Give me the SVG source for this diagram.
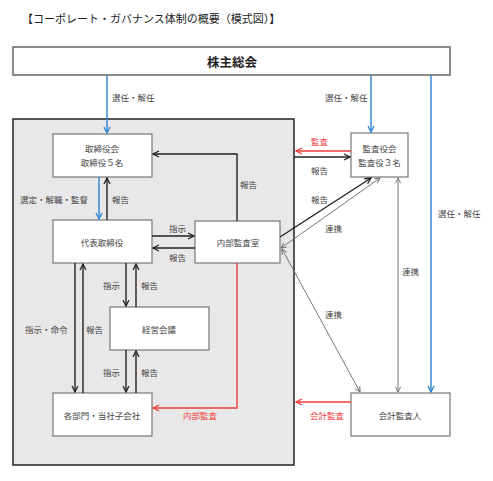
<svg xmlns="http://www.w3.org/2000/svg" width="493" height="481" viewBox="0 0 493 481">
<style>
text{font-family:"Noto Sans CJK JP","Noto Sans",sans-serif;fill:#444;font-size:8.5px;dominant-baseline:central}
.t{font-size:11px;fill:#222}
.h{font-size:12.5px;font-weight:bold;fill:#222}
.r{fill:#f03c3c}
.box{fill:#fff;stroke:#777;stroke-width:1.2}
.k{stroke:#222;stroke-width:1.4;fill:none;marker-end:url(#ak)}
.b{stroke:#2a84d2;stroke-width:1.4;fill:none;marker-end:url(#ab)}
.rd{stroke:#f03c3c;stroke-width:1.4;fill:none;marker-end:url(#ar)}
.g{stroke:#666;stroke-width:0.9;fill:none;marker-end:url(#ag);marker-start:url(#ag)}
</style>
<defs>
<marker id="ak" viewBox="0 0 8 8" refX="7" refY="4" markerWidth="8" markerHeight="8" markerUnits="userSpaceOnUse" orient="auto-start-reverse"><path d="M1,1 L7,4 L1,7" fill="none" stroke="#222" stroke-width="1.3"/></marker>
<marker id="ab" viewBox="0 0 8 8" refX="7" refY="4" markerWidth="8" markerHeight="8" markerUnits="userSpaceOnUse" orient="auto-start-reverse"><path d="M1,1 L7,4 L1,7" fill="none" stroke="#2a84d2" stroke-width="1.3"/></marker>
<marker id="ar" viewBox="0 0 8 8" refX="7" refY="4" markerWidth="8" markerHeight="8" markerUnits="userSpaceOnUse" orient="auto-start-reverse"><path d="M1,1 L7,4 L1,7" fill="none" stroke="#f03c3c" stroke-width="1.3"/></marker>
<marker id="ag" viewBox="0 0 8 8" refX="7" refY="4" markerWidth="7" markerHeight="7" markerUnits="userSpaceOnUse" orient="auto-start-reverse"><path d="M1,1 L7,4 L1,7" fill="none" stroke="#666" stroke-width="1"/></marker>
</defs>
<rect width="493" height="481" fill="#fff"/>
<text class="t" x="22" y="18">【コーポレート・ガバナンス体制の概要（模式図）】</text>

<g id="group-frame"><rect x="13" y="119" width="281" height="346" fill="#e8e8e8" stroke="#222" stroke-width="1.5"/></g>

<g id="node-shareholders"><rect x="13" y="47" width="437" height="28" fill="#fff" stroke="#666" stroke-width="1.5"/><text class="h" x="232" y="61" text-anchor="middle">株主総会</text></g>
<g id="node-board"><rect class="box" x="53" y="134" width="99" height="43"/><text x="102" y="148" text-anchor="middle">取締役会</text><text x="102" y="162" text-anchor="middle">取締役５名</text></g>
<g id="node-ceo"><rect class="box" x="53" y="220" width="99" height="43"/><text x="102" y="242" text-anchor="middle">代表取締役</text></g>
<g id="node-internal-audit"><rect class="box" x="195" y="221" width="85" height="42"/><text x="238" y="242" text-anchor="middle">内部監査室</text></g>
<g id="node-mgmt"><rect class="box" x="110" y="307" width="99" height="43"/><text x="159" y="329" text-anchor="middle">経営会議</text></g>
<g id="node-depts"><rect class="box" x="53" y="393" width="99" height="43"/><text x="102" y="415" text-anchor="middle">各部門・当社子会社</text></g>
<g id="node-auditors"><rect class="box" x="351" y="133" width="57" height="44"/><text x="379.5" y="148" text-anchor="middle">監査役会</text><text x="379.5" y="162" text-anchor="middle">監査役３名</text></g>
<g id="node-accountant"><rect class="box" x="351" y="393" width="99" height="43"/><text x="400" y="415" text-anchor="middle">会計監査人</text></g>

<g id="connectors">
<line class="b" x1="107" y1="75" x2="107" y2="133"/>
<line class="b" x1="371" y1="75" x2="371" y2="132"/>
<line class="b" x1="431" y1="75" x2="431" y2="392"/>
<line class="b" x1="99" y1="177" x2="99" y2="219"/>
<line class="k" x1="107" y1="220" x2="107" y2="178"/>
<line class="k" x1="152" y1="236" x2="194" y2="236"/>
<line class="k" x1="195" y1="248" x2="153" y2="248"/>
<polyline class="k" points="237,221 237,154 153,154"/>
<line class="k" x1="126" y1="263" x2="126" y2="306"/>
<line class="k" x1="136" y1="307" x2="136" y2="264"/>
<line class="k" x1="126" y1="350" x2="126" y2="392"/>
<line class="k" x1="136" y1="393" x2="136" y2="351"/>
<line class="k" x1="75" y1="263" x2="75" y2="392"/>
<line class="k" x1="83" y1="393" x2="83" y2="264"/>
<polyline class="rd" points="237,263 237,408 153,408"/>
<line class="rd" x1="351" y1="151" x2="296" y2="151"/>
<line class="k" x1="294" y1="157" x2="350" y2="157"/>
<line class="k" x1="280" y1="237" x2="371" y2="178"/>
<line class="g" x1="380" y1="178" x2="281" y2="248"/>
<line class="g" x1="282" y1="249" x2="360" y2="392"/>
<line class="g" x1="398" y1="178" x2="398" y2="392"/>
<line class="rd" x1="351" y1="402" x2="296" y2="402"/>
</g>

<g id="labels">
<text x="112" y="97">選任・解任</text>
<text x="325" y="97">選任・解任</text>
<text x="438" y="213">選任・解任</text>
<text x="20" y="199">選定・解職・監督</text>
<text x="112" y="199">報告</text>
<text x="240" y="184">報告</text>
<text x="169" y="228">指示</text>
<text x="169" y="257">報告</text>
<text x="103" y="285">指示</text>
<text x="141" y="285">報告</text>
<text x="103" y="372">指示</text>
<text x="141" y="372">報告</text>
<text x="25" y="329">指示・命令</text>
<text x="86" y="329">報告</text>
<text class="r" x="183" y="415">内部監査</text>
<text class="r" x="311" y="141">監査</text>
<text x="311" y="170">報告</text>
<text x="311" y="199">報告</text>
<text x="325" y="228">連携</text>
<text x="402" y="271">連携</text>
<text x="325" y="314">連携</text>
<text class="r" x="310" y="415">会計監査</text>
</g>
</svg>
